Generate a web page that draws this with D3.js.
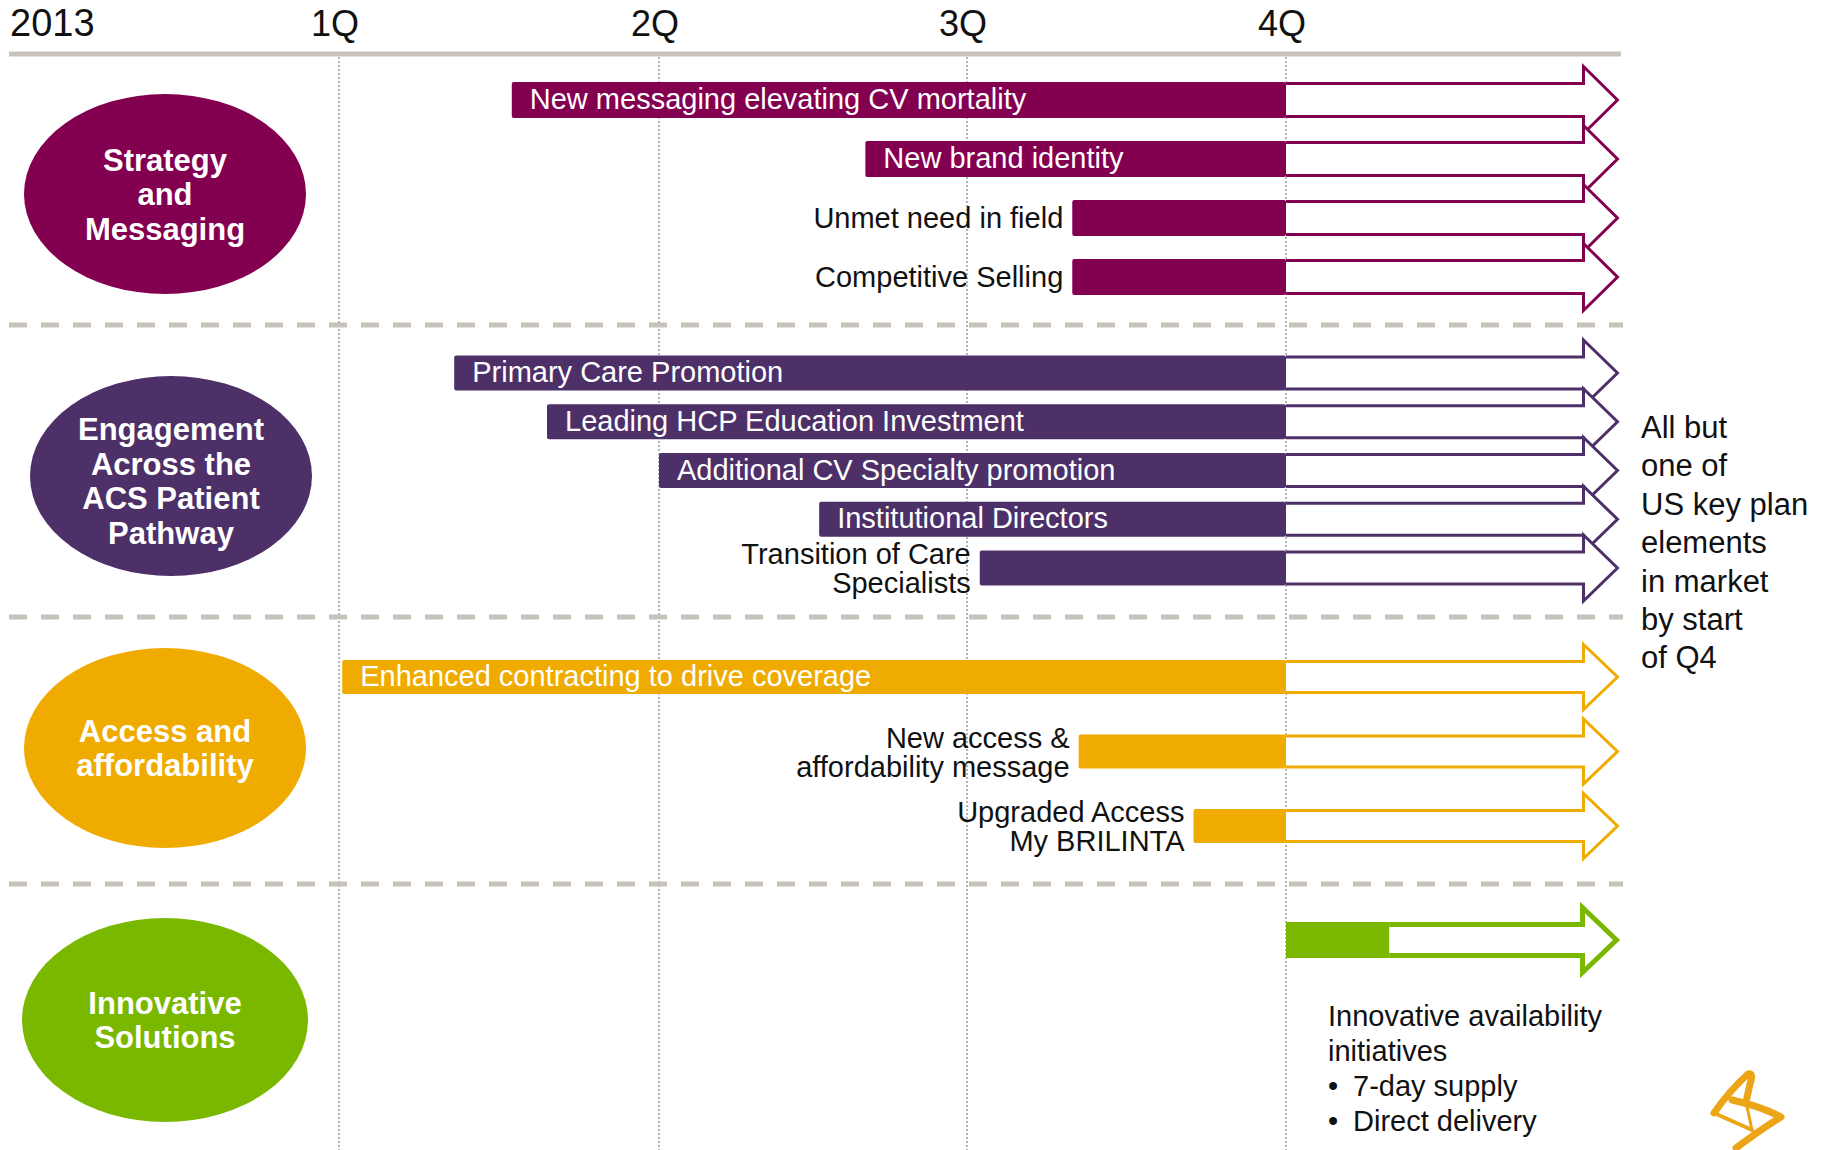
<!DOCTYPE html>
<html>
<head>
<meta charset="utf-8">
<script src="https://cdn.jsdelivr.net/npm/d3@7"></script>
<style>
  body { margin: 0; background: #fff; }
  text { font-family: "Liberation Sans", Arial, sans-serif; }
</style>
</head>
<body>
<svg id="chart"></svg>
<script>
var svgWidth = 1829;
var svgHeight = 1150;

// timeline: quarters of 2013, 5 = start of next year (where arrows point)
var yearLabel = "2013";
var quarterLabels = ["1Q", "2Q", "3Q", "4Q"];
var quarterValues = [1, 2, 3, 4];
var horizon = 5;

// the four pillars
var sectionLines = [
  ["Strategy", "and", "Messaging"],
  ["Engagement", "Across the", "ACS Patient", "Pathway"],
  ["Access and", "affordability"],
  ["Innovative", "Solutions"]
];
var sectionColors = ["#830051", "#4d3068", "#f0ab00", "#7ab800"];

// initiatives (start / end in quarters)
var itemSection = [0, 0, 0, 0, 1, 1, 1, 1, 1, 2, 2, 2, 3];
var itemLabels = [
  "New messaging elevating CV mortality",
  "New brand identity",
  "Unmet need in field",
  "Competitive Selling",
  "Primary Care Promotion",
  "Leading HCP Education Investment",
  "Additional CV Specialty promotion",
  "Institutional Directors",
  "Transition of Care\nSpecialists",
  "Enhanced contracting to drive coverage",
  "New access &\naffordability message",
  "Upgraded Access\nMy BRILINTA",
  ""
];
var itemStart = [1.54, 2.67, 3.33, 3.33, 1.36, 1.65, 2.0, 2.52, 3.04, 1.01, 3.35, 3.71, 4.0];
var itemEnd = [4, 4, 4, 4, 4, 4, 4, 4, 4, 4, 4, 4, 4.31];

var noteLines = ["All but", "one of", "US key plan", "elements", "in market", "by start", "of Q4"];
var innovLines = ["Innovative availability", "initiatives"];
var innovBullets = ["7-day supply", "Direct delivery"];

// layout
var topLineY = 54;
var separatorY = [325, 617, 884];
var rowRange = [[100, 277], [373, 568], [677, 826], [940, 940]];
var barHeight = [36, 35, 34, 36];
var arrowStroke = [3, 3, 3, 5];
var ellipseCX = [165, 171, 165, 165];
var ellipseCY = [194, 476, 748, 1020];
var ellipseTextDy = [11, 16, 11, 11];

var svg = d3.select("#chart")
  .attr("width", svgWidth)
  .attr("height", svgHeight)
  .style("background", "#fff");

var x = d3.scaleLinear()
  .domain([1, 2, 3, 4, 5])
  .range([339, 659, 967, 1286, 1619]);

var items = itemLabels.map(function(label, i) {
  return { id: i, label: label, sec: itemSection[i], start: itemStart[i], end: itemEnd[i] };
});

var yScales = sectionLines.map(function(_, s) {
  return d3.scalePoint()
    .domain(items.filter(d => d.sec === s).map(d => d.id))
    .range(rowRange[s]);
});
function cy(d) { return yScales[d.sec](d.id); }

// header
svg.append("line")
  .attr("x1", 9).attr("x2", x(horizon) + 2)
  .attr("y1", topLineY).attr("y2", topLineY)
  .attr("stroke", "#c8c3ba").attr("stroke-width", 5);

svg.append("text")
  .attr("x", 10).attr("y", 36)
  .attr("font-size", 38).attr("fill", "#111")
  .text(yearLabel);

svg.selectAll(".qlabel")
  .data(quarterValues)
  .join("text")
  .attr("class", "qlabel")
  .attr("x", d => x(d) - 4).attr("y", 36)
  .attr("text-anchor", "middle")
  .attr("font-size", 36).attr("fill", "#111")
  .text((d, i) => quarterLabels[i]);

// dotted quarter lines
svg.selectAll(".qline")
  .data(quarterValues)
  .join("line")
  .attr("class", "qline")
  .attr("x1", d => x(d)).attr("x2", d => x(d))
  .attr("y1", topLineY + 3).attr("y2", svgHeight)
  .attr("stroke", "#9c9c9c").attr("stroke-width", 1.5)
  .attr("stroke-dasharray", "2,2");

// section separators
svg.selectAll(".sep")
  .data(separatorY)
  .join("line")
  .attr("class", "sep")
  .attr("x1", 9).attr("x2", x(horizon) + 4)
  .attr("y1", d => d).attr("y2", d => d)
  .attr("stroke", "#c8c3ba").attr("stroke-width", 5)
  .attr("stroke-dasharray", "18,14");

// pillar ellipses
var pillars = svg.selectAll(".pillar")
  .data(sectionLines)
  .join("g")
  .attr("class", "pillar")
  .attr("transform", (d, i) => `translate(${ellipseCX[i]},${ellipseCY[i]})`);

pillars.append("ellipse")
  .attr("rx", (d, i) => i === 3 ? 143 : 141)
  .attr("ry", (d, i) => i === 3 ? 102 : 100)
  .attr("fill", (d, i) => sectionColors[i]);

pillars.each(function(lines, i) {
  var n = lines.length;
  d3.select(this).selectAll("text")
    .data(lines)
    .join("text")
    .attr("text-anchor", "middle")
    .attr("y", (l, j) => ellipseTextDy[i] + (j - (n - 1) / 2) * 34.5)
    .attr("font-size", 31).attr("font-weight", "bold")
    .attr("fill", "#fff")
    .text(l => l);
});

// arrows + bars
function arrowPath(d) {
  var sw = arrowStroke[d.sec];
  var c = cy(d);
  var half = barHeight[d.sec] / 2 - sw / 2;
  var head = half + 17;
  var x0 = x(d.end), tip = x(horizon) - sw / 2, base = tip - 34;
  return `M${x0},${c - half}L${base},${c - half}L${base},${c - head}L${tip},${c}` +
    `L${base},${c + head}L${base},${c + half}L${x0},${c + half}`;
}

var rows = svg.selectAll(".item")
  .data(items)
  .join("g")
  .attr("class", "item");

rows.append("path")
  .attr("d", arrowPath)
  .attr("fill", "#fff")
  .attr("stroke", d => sectionColors[d.sec])
  .attr("stroke-width", d => arrowStroke[d.sec])
  .attr("stroke-linejoin", "miter");

rows.append("rect")
  .attr("x", d => x(d.start))
  .attr("y", d => cy(d) - barHeight[d.sec] / 2)
  .attr("width", d => x(d.end) - x(d.start))
  .attr("height", d => barHeight[d.sec])
  .attr("rx", d => d.sec === 3 ? 0 : 2)
  .attr("fill", d => sectionColors[d.sec]);

// labels: inside the bar if it fits on one line, otherwise to its left
rows.filter(d => d.label !== "").each(function(d) {
  var g = d3.select(this);
  var lines = d.label.split("\n");
  var barW = x(d.end) - x(d.start);
  var t = g.append("text")
    .attr("font-size", 29)
    .attr("x", x(d.start) + 18)
    .attr("y", cy(d) + 9)
    .attr("fill", "#fff")
    .text(lines[0]);
  var fits = lines.length === 1 && t.node().getComputedTextLength() + 30 < barW;
  if (!fits) {
    t.remove();
    var base = lines.length === 1 ? cy(d) + 10 : cy(d) - 4;
    g.selectAll(".outl")
      .data(lines)
      .join("text")
      .attr("class", "outl")
      .attr("font-size", 29)
      .attr("text-anchor", "end")
      .attr("x", x(d.start) - 9)
      .attr("y", (l, j) => base + j * 29)
      .attr("fill", "#111")
      .text(l => l);
  }
});

// right hand note
svg.append("g")
  .selectAll("text")
  .data(noteLines)
  .join("text")
  .attr("x", x(horizon) + 22)
  .attr("y", (d, i) => 438 + i * 38.4)
  .attr("font-size", 31).attr("fill", "#111")
  .text(d => d);

// innovative solutions note
var innov = svg.append("g").attr("transform", `translate(${x(4) + 42},0)`);
innov.selectAll(".iline")
  .data(innovLines)
  .join("text")
  .attr("class", "iline")
  .attr("y", (d, i) => 1026 + i * 35)
  .attr("font-size", 29).attr("fill", "#111")
  .text(d => d);
var bullets = innov.selectAll(".bullet")
  .data(innovBullets)
  .join("g")
  .attr("class", "bullet")
  .attr("transform", (d, i) => `translate(0,${1026 + (innovLines.length + i) * 35})`);
bullets.append("text")
  .attr("font-size", 29).attr("fill", "#111")
  .text("\u2022");
bullets.append("text")
  .attr("x", 25)
  .attr("font-size", 29).attr("fill", "#111")
  .text(d => d);

// AZ symbol (approximation)
var logo = svg.append("g")
  .attr("transform", "translate(1690,1050)")
  .attr("fill", "none")
  .attr("stroke", "#eba516")
  .attr("stroke-linecap", "round")
  .attr("stroke-linejoin", "round");
logo.append("path").attr("d", "M24,63 Q40,40 58,24 Q64,22 60,34 L56,52").attr("stroke-width", 7);
logo.append("path").attr("d", "M24,63 L62,80").attr("stroke-width", 4);
logo.append("path").attr("d", "M56,52 L62,80").attr("stroke-width", 3);
logo.append("path").attr("d", "M42,50 Q70,56 91,67 Q70,80 46,98").attr("stroke-width", 7);
</script>
</body>
</html>
